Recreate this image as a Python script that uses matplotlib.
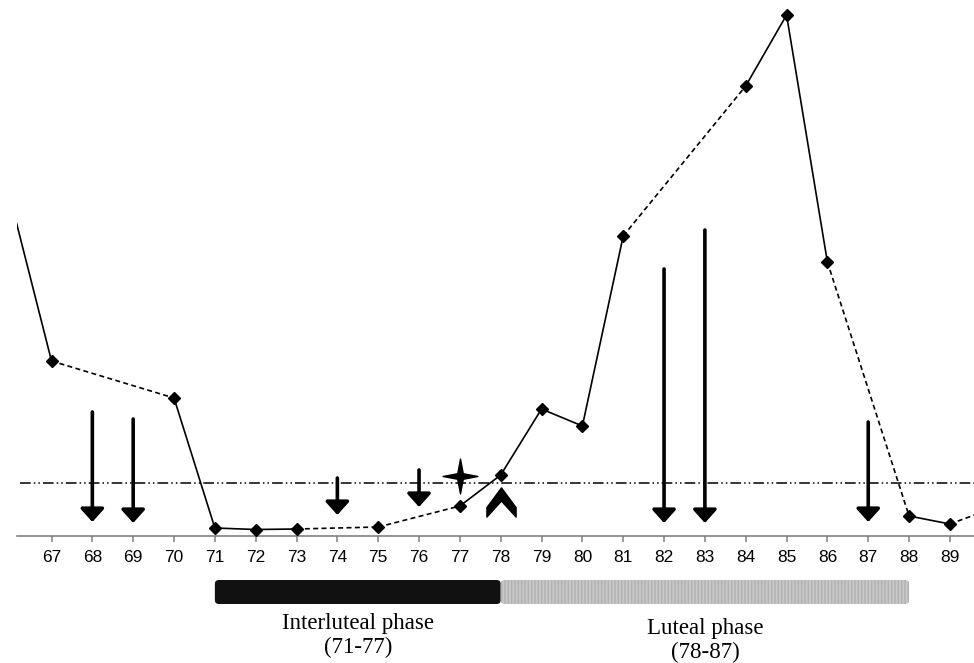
import matplotlib
matplotlib.use("Agg")
import matplotlib.pyplot as plt
from matplotlib.path import Path
from matplotlib.patches import FancyBboxPatch

# Дни наблюдения и значения (пропущенные дни соединяются пунктиром)
days = [66, 67, 70, 71, 72, 73, 75, 77, 78, 79, 80, 81, 84, 85, 86, 88, 89, 91]
values = [33.6, 17.5, 13.8, 0.8, 0.65, 0.7, 0.9, 3.0, 6.1, 12.7, 11.0, 30.0,
          45.0, 52.1, 27.4, 2.0, 1.2, 4.2]

# Порог
threshold = 5.3

# Стрелки: день, верх, остриё
arrow_days = [68, 69, 74, 76, 82, 83, 87]
arrow_tops = [12.4, 11.7, 5.8, 6.6, 26.7, 30.6, 11.4]
arrow_tips = [1.4, 1.3, 2.1, 2.9, 1.3, 1.3, 1.4]

# Особые отметки
star_day, star_value = 77, 6.0
chevron_day, chevron_value = 78, 3.4

# Фазы
phase_labels = ["Interluteal phase\n(71-77)", "Luteal phase\n(78-87)"]
phase_starts = [71, 78]
phase_ends = [78, 88]
phase_colors = ["#111111", "#c9c9c9"]

tick_days = list(range(67, 90))

W, H = 974, 663
x_min, x_max = 66.155, 89.59
fig = plt.figure(figsize=(W / 100, H / 100), dpi=100)
ax = fig.add_axes([17 / W, (H - 536) / H, 957 / W, 536 / H])
ax.set_xlim(x_min, x_max)
ax.set_ylim(0, 53.6)

# Линия: сплошная для соседних дней, пунктир через пропуски
for i in range(len(days) - 1):
    style = "-" if days[i + 1] - days[i] == 1 else (0, (3, 2))
    ax.plot(days[i:i + 2], values[i:i + 2], color="black", lw=1.2,
            linestyle=style, zorder=3)
vis = [(d, v) for d, v in zip(days, values) if x_min < d < x_max]
ax.plot([d for d, v in vis], [v for d, v in vis], linestyle="none",
        marker="D", ms=6, color="black", zorder=4)

# Пороговая линия
ax.hlines(threshold, 66.23, x_max, colors="black", lw=1.1,
          linestyles=[(0, (7, 2, 1, 2, 1, 2))], zorder=2)

# Стрелки
for d, top, tip in zip(arrow_days, arrow_tops, arrow_tips):
    ax.annotate("", xy=(d, tip), xytext=(d, top),
                arrowprops=dict(arrowstyle="-|>,head_length=0.8,head_width=0.72",
                                lw=2.6, color="black", shrinkA=0, shrinkB=0),
                zorder=5)

# Звезда
star = Path([(0, 1), (0.16, 0.16), (1, 0), (0.16, -0.16), (0, -1), (-0.16, -0.16),
             (-1, 0), (-0.16, 0.16), (0, 1)], closed=True)
ax.plot([star_day], [star_value], marker=star, ms=25, color="black",
        linestyle="none", zorder=6)

# Шеврон
chevron = Path([(0, 1), (1, -0.35), (1, -1), (0, 0.1), (-1, -1),
                (-1, -0.35), (0, 1)], closed=True)
ax.plot([chevron_day], [chevron_value], marker=chevron, ms=21, color="black",
        linestyle="none", zorder=6)

for s in ["top", "left", "right"]:
    ax.spines[s].set_visible(False)
ax.spines["bottom"].set_color("#808080")
ax.spines["bottom"].set_linewidth(1.2)
ax.set_yticks([])
ax.set_xticks(tick_days)
ax.set_xticklabels([str(d) for d in tick_days], fontsize=12.5,
                   fontfamily="Liberation Sans")
ax.tick_params(axis="x", direction="out", length=4, width=1.1, color="#808080",
               pad=6)

# Полосы фаз
bar_ax = fig.add_axes([17 / W, 0, 957 / W, 93 / H])
bar_ax.set_xlim(x_min, x_max)
bar_ax.set_ylim(663, 570)
bar_ax.axis("off")
px_per_day = 957 / (x_max - x_min)
for start, end, col, label in zip(phase_starts, phase_ends, phase_colors, phase_labels):
    hatch = "|||||" if col != "#111111" else None
    patch = FancyBboxPatch((start, 580), end - start, 24,
                           boxstyle="round,pad=0,rounding_size=0.1",
                           mutation_aspect=px_per_day,
                           facecolor=col, edgecolor="#b0b0b0" if hatch else col,
                           lw=0, hatch=hatch)
    bar_ax.add_patch(patch)
    ytxt = 613 if start == 71 else 618
    bar_ax.text((start + end) / 2, ytxt, label, ha="center", va="top",
                fontsize=16.5, fontfamily="Liberation Serif", linespacing=1.2)

plt.savefig("out.png", dpi=100)
